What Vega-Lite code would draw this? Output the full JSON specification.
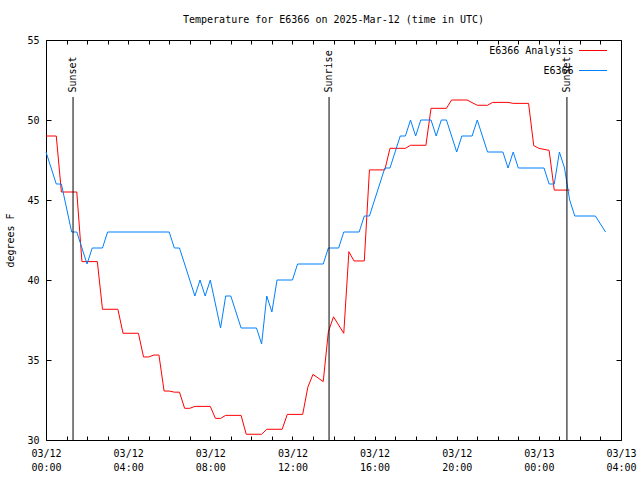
{
  "$schema": "https://vega.github.io/schema/vega-lite/v6.json",
  "width": 575,
  "height": 400,
  "autosize": "none",
  "padding": {"left": 46, "top": 40, "right": 19, "bottom": 40},
  "background": "white",
  "title": {"text": "Temperature for E6366 on 2025-Mar-12 (time in UTC)", "anchor": "middle", "offset": 10, "font": "DejaVu Sans Mono", "fontSize": 10, "fontWeight": "normal", "color": "black"},
  "config": {
    "view": {"stroke": null},
    "axis": {"grid": false, "domain": true, "domainColor": "black", "domainWidth": 1, "tickColor": "black", "tickWidth": 1, "labelColor": "black", "labelFont": "DejaVu Sans Mono", "labelFontSize": 10, "titleFont": "DejaVu Sans Mono", "titleFontSize": 10, "titleFontWeight": "normal", "titleColor": "black"}
  },
  "datasets": {
    "obs": [
      {"series": "E6366 Analysis", "time": "2025-03-12T00:00:00Z", "temp": 49.0},
      {"series": "E6366 Analysis", "time": "2025-03-12T00:30:00Z", "temp": 49.0},
      {"series": "E6366 Analysis", "time": "2025-03-12T00:45:00Z", "temp": 45.5},
      {"series": "E6366 Analysis", "time": "2025-03-12T01:30:00Z", "temp": 45.5},
      {"series": "E6366 Analysis", "time": "2025-03-12T01:45:00Z", "temp": 41.15},
      {"series": "E6366 Analysis", "time": "2025-03-12T02:30:00Z", "temp": 41.15},
      {"series": "E6366 Analysis", "time": "2025-03-12T02:45:00Z", "temp": 38.17},
      {"series": "E6366 Analysis", "time": "2025-03-12T03:30:00Z", "temp": 38.17},
      {"series": "E6366 Analysis", "time": "2025-03-12T03:45:00Z", "temp": 36.67},
      {"series": "E6366 Analysis", "time": "2025-03-12T04:30:00Z", "temp": 36.67},
      {"series": "E6366 Analysis", "time": "2025-03-12T04:45:00Z", "temp": 35.19},
      {"series": "E6366 Analysis", "time": "2025-03-12T05:00:00Z", "temp": 35.19},
      {"series": "E6366 Analysis", "time": "2025-03-12T05:15:00Z", "temp": 35.31},
      {"series": "E6366 Analysis", "time": "2025-03-12T05:30:00Z", "temp": 35.31},
      {"series": "E6366 Analysis", "time": "2025-03-12T05:45:00Z", "temp": 33.06},
      {"series": "E6366 Analysis", "time": "2025-03-12T06:00:00Z", "temp": 33.06},
      {"series": "E6366 Analysis", "time": "2025-03-12T06:15:00Z", "temp": 32.99},
      {"series": "E6366 Analysis", "time": "2025-03-12T06:30:00Z", "temp": 32.99},
      {"series": "E6366 Analysis", "time": "2025-03-12T06:45:00Z", "temp": 31.98},
      {"series": "E6366 Analysis", "time": "2025-03-12T07:00:00Z", "temp": 31.98},
      {"series": "E6366 Analysis", "time": "2025-03-12T07:15:00Z", "temp": 32.1},
      {"series": "E6366 Analysis", "time": "2025-03-12T08:00:00Z", "temp": 32.1},
      {"series": "E6366 Analysis", "time": "2025-03-12T08:15:00Z", "temp": 31.35},
      {"series": "E6366 Analysis", "time": "2025-03-12T08:30:00Z", "temp": 31.35},
      {"series": "E6366 Analysis", "time": "2025-03-12T08:45:00Z", "temp": 31.54},
      {"series": "E6366 Analysis", "time": "2025-03-12T09:30:00Z", "temp": 31.54},
      {"series": "E6366 Analysis", "time": "2025-03-12T09:45:00Z", "temp": 30.36},
      {"series": "E6366 Analysis", "time": "2025-03-12T10:30:00Z", "temp": 30.36},
      {"series": "E6366 Analysis", "time": "2025-03-12T10:45:00Z", "temp": 30.67},
      {"series": "E6366 Analysis", "time": "2025-03-12T11:30:00Z", "temp": 30.67},
      {"series": "E6366 Analysis", "time": "2025-03-12T11:45:00Z", "temp": 31.6},
      {"series": "E6366 Analysis", "time": "2025-03-12T12:30:00Z", "temp": 31.6},
      {"series": "E6366 Analysis", "time": "2025-03-12T12:45:00Z", "temp": 33.3},
      {"series": "E6366 Analysis", "time": "2025-03-12T13:00:00Z", "temp": 34.1},
      {"series": "E6366 Analysis", "time": "2025-03-12T13:30:00Z", "temp": 33.65},
      {"series": "E6366 Analysis", "time": "2025-03-12T13:45:00Z", "temp": 36.77},
      {"series": "E6366 Analysis", "time": "2025-03-12T14:00:00Z", "temp": 37.7},
      {"series": "E6366 Analysis", "time": "2025-03-12T14:30:00Z", "temp": 36.67},
      {"series": "E6366 Analysis", "time": "2025-03-12T14:45:00Z", "temp": 41.77},
      {"series": "E6366 Analysis", "time": "2025-03-12T15:00:00Z", "temp": 41.19},
      {"series": "E6366 Analysis", "time": "2025-03-12T15:30:00Z", "temp": 41.19},
      {"series": "E6366 Analysis", "time": "2025-03-12T15:45:00Z", "temp": 46.88},
      {"series": "E6366 Analysis", "time": "2025-03-12T16:30:00Z", "temp": 46.88},
      {"series": "E6366 Analysis", "time": "2025-03-12T16:45:00Z", "temp": 48.23},
      {"series": "E6366 Analysis", "time": "2025-03-12T17:30:00Z", "temp": 48.23},
      {"series": "E6366 Analysis", "time": "2025-03-12T17:45:00Z", "temp": 48.42},
      {"series": "E6366 Analysis", "time": "2025-03-12T18:30:00Z", "temp": 48.42},
      {"series": "E6366 Analysis", "time": "2025-03-12T18:45:00Z", "temp": 50.73},
      {"series": "E6366 Analysis", "time": "2025-03-12T19:30:00Z", "temp": 50.73},
      {"series": "E6366 Analysis", "time": "2025-03-12T19:45:00Z", "temp": 51.25},
      {"series": "E6366 Analysis", "time": "2025-03-12T20:30:00Z", "temp": 51.25},
      {"series": "E6366 Analysis", "time": "2025-03-12T21:00:00Z", "temp": 50.92},
      {"series": "E6366 Analysis", "time": "2025-03-12T21:30:00Z", "temp": 50.92},
      {"series": "E6366 Analysis", "time": "2025-03-12T21:45:00Z", "temp": 51.1},
      {"series": "E6366 Analysis", "time": "2025-03-12T22:30:00Z", "temp": 51.1},
      {"series": "E6366 Analysis", "time": "2025-03-12T22:45:00Z", "temp": 51.04},
      {"series": "E6366 Analysis", "time": "2025-03-12T23:30:00Z", "temp": 51.04},
      {"series": "E6366 Analysis", "time": "2025-03-12T23:45:00Z", "temp": 48.4},
      {"series": "E6366 Analysis", "time": "2025-03-13T00:00:00Z", "temp": 48.23},
      {"series": "E6366 Analysis", "time": "2025-03-13T00:30:00Z", "temp": 48.1},
      {"series": "E6366 Analysis", "time": "2025-03-13T00:45:00Z", "temp": 45.62},
      {"series": "E6366 Analysis", "time": "2025-03-13T01:30:00Z", "temp": 45.62},
      {"series": "E6366", "time": "2025-03-12T00:00:00Z", "temp": 48},
      {"series": "E6366", "time": "2025-03-12T00:30:00Z", "temp": 46},
      {"series": "E6366", "time": "2025-03-12T00:45:00Z", "temp": 46},
      {"series": "E6366", "time": "2025-03-12T01:15:00Z", "temp": 43},
      {"series": "E6366", "time": "2025-03-12T01:30:00Z", "temp": 43},
      {"series": "E6366", "time": "2025-03-12T02:00:00Z", "temp": 41},
      {"series": "E6366", "time": "2025-03-12T02:15:00Z", "temp": 42},
      {"series": "E6366", "time": "2025-03-12T02:45:00Z", "temp": 42},
      {"series": "E6366", "time": "2025-03-12T03:00:00Z", "temp": 43},
      {"series": "E6366", "time": "2025-03-12T06:00:00Z", "temp": 43},
      {"series": "E6366", "time": "2025-03-12T06:15:00Z", "temp": 42},
      {"series": "E6366", "time": "2025-03-12T06:30:00Z", "temp": 42},
      {"series": "E6366", "time": "2025-03-12T07:15:00Z", "temp": 39},
      {"series": "E6366", "time": "2025-03-12T07:30:00Z", "temp": 40},
      {"series": "E6366", "time": "2025-03-12T07:45:00Z", "temp": 39},
      {"series": "E6366", "time": "2025-03-12T08:00:00Z", "temp": 40},
      {"series": "E6366", "time": "2025-03-12T08:30:00Z", "temp": 37},
      {"series": "E6366", "time": "2025-03-12T08:45:00Z", "temp": 39},
      {"series": "E6366", "time": "2025-03-12T09:00:00Z", "temp": 39},
      {"series": "E6366", "time": "2025-03-12T09:30:00Z", "temp": 37},
      {"series": "E6366", "time": "2025-03-12T10:15:00Z", "temp": 37},
      {"series": "E6366", "time": "2025-03-12T10:30:00Z", "temp": 36},
      {"series": "E6366", "time": "2025-03-12T10:45:00Z", "temp": 39},
      {"series": "E6366", "time": "2025-03-12T11:00:00Z", "temp": 38},
      {"series": "E6366", "time": "2025-03-12T11:15:00Z", "temp": 40},
      {"series": "E6366", "time": "2025-03-12T12:00:00Z", "temp": 40},
      {"series": "E6366", "time": "2025-03-12T12:15:00Z", "temp": 41},
      {"series": "E6366", "time": "2025-03-12T13:30:00Z", "temp": 41},
      {"series": "E6366", "time": "2025-03-12T13:45:00Z", "temp": 42},
      {"series": "E6366", "time": "2025-03-12T14:15:00Z", "temp": 42},
      {"series": "E6366", "time": "2025-03-12T14:30:00Z", "temp": 43},
      {"series": "E6366", "time": "2025-03-12T15:15:00Z", "temp": 43},
      {"series": "E6366", "time": "2025-03-12T15:30:00Z", "temp": 44},
      {"series": "E6366", "time": "2025-03-12T15:45:00Z", "temp": 44},
      {"series": "E6366", "time": "2025-03-12T16:30:00Z", "temp": 47},
      {"series": "E6366", "time": "2025-03-12T16:45:00Z", "temp": 47},
      {"series": "E6366", "time": "2025-03-12T17:15:00Z", "temp": 49},
      {"series": "E6366", "time": "2025-03-12T17:30:00Z", "temp": 49},
      {"series": "E6366", "time": "2025-03-12T17:45:00Z", "temp": 50},
      {"series": "E6366", "time": "2025-03-12T18:00:00Z", "temp": 49},
      {"series": "E6366", "time": "2025-03-12T18:15:00Z", "temp": 50},
      {"series": "E6366", "time": "2025-03-12T18:45:00Z", "temp": 50},
      {"series": "E6366", "time": "2025-03-12T19:00:00Z", "temp": 49},
      {"series": "E6366", "time": "2025-03-12T19:15:00Z", "temp": 50},
      {"series": "E6366", "time": "2025-03-12T19:30:00Z", "temp": 50},
      {"series": "E6366", "time": "2025-03-12T20:00:00Z", "temp": 48},
      {"series": "E6366", "time": "2025-03-12T20:15:00Z", "temp": 49},
      {"series": "E6366", "time": "2025-03-12T20:45:00Z", "temp": 49},
      {"series": "E6366", "time": "2025-03-12T21:00:00Z", "temp": 50},
      {"series": "E6366", "time": "2025-03-12T21:30:00Z", "temp": 48},
      {"series": "E6366", "time": "2025-03-12T22:15:00Z", "temp": 48},
      {"series": "E6366", "time": "2025-03-12T22:30:00Z", "temp": 47},
      {"series": "E6366", "time": "2025-03-12T22:45:00Z", "temp": 48},
      {"series": "E6366", "time": "2025-03-12T23:00:00Z", "temp": 47},
      {"series": "E6366", "time": "2025-03-13T00:15:00Z", "temp": 47},
      {"series": "E6366", "time": "2025-03-13T00:30:00Z", "temp": 46},
      {"series": "E6366", "time": "2025-03-13T00:45:00Z", "temp": 46},
      {"series": "E6366", "time": "2025-03-13T01:00:00Z", "temp": 48},
      {"series": "E6366", "time": "2025-03-13T01:15:00Z", "temp": 47},
      {"series": "E6366", "time": "2025-03-13T01:30:00Z", "temp": 45},
      {"series": "E6366", "time": "2025-03-13T01:45:00Z", "temp": 44},
      {"series": "E6366", "time": "2025-03-13T02:45:00Z", "temp": 44},
      {"series": "E6366", "time": "2025-03-13T03:15:00Z", "temp": 43}
    ],
    "sun": [
      {"time": "2025-03-12T01:19:00Z", "label": "Sunset"},
      {"time": "2025-03-12T13:47:00Z", "label": "Sunrise"},
      {"time": "2025-03-13T01:22:00Z", "label": "Sunset"}
    ]
  },
  "layer": [
    {
      "data": {"name": "obs"},
      "mark": {"type": "line", "strokeWidth": 1},
      "encoding": {
        "x": {
          "field": "time", "type": "temporal",
          "scale": {"type": "utc", "domain": ["2025-03-12T00:00:00Z", "2025-03-13T04:00:00Z"]},
          "axis": {
            "orient": "bottom", "title": null,
            "values": [
              {"year": 2025, "month": 3, "date": 12, "hours": 0, "utc": true},
              {"year": 2025, "month": 3, "date": 12, "hours": 1, "utc": true},
              {"year": 2025, "month": 3, "date": 12, "hours": 2, "utc": true},
              {"year": 2025, "month": 3, "date": 12, "hours": 3, "utc": true},
              {"year": 2025, "month": 3, "date": 12, "hours": 4, "utc": true},
              {"year": 2025, "month": 3, "date": 12, "hours": 5, "utc": true},
              {"year": 2025, "month": 3, "date": 12, "hours": 6, "utc": true},
              {"year": 2025, "month": 3, "date": 12, "hours": 7, "utc": true},
              {"year": 2025, "month": 3, "date": 12, "hours": 8, "utc": true},
              {"year": 2025, "month": 3, "date": 12, "hours": 9, "utc": true},
              {"year": 2025, "month": 3, "date": 12, "hours": 10, "utc": true},
              {"year": 2025, "month": 3, "date": 12, "hours": 11, "utc": true},
              {"year": 2025, "month": 3, "date": 12, "hours": 12, "utc": true},
              {"year": 2025, "month": 3, "date": 12, "hours": 13, "utc": true},
              {"year": 2025, "month": 3, "date": 12, "hours": 14, "utc": true},
              {"year": 2025, "month": 3, "date": 12, "hours": 15, "utc": true},
              {"year": 2025, "month": 3, "date": 12, "hours": 16, "utc": true},
              {"year": 2025, "month": 3, "date": 12, "hours": 17, "utc": true},
              {"year": 2025, "month": 3, "date": 12, "hours": 18, "utc": true},
              {"year": 2025, "month": 3, "date": 12, "hours": 19, "utc": true},
              {"year": 2025, "month": 3, "date": 12, "hours": 20, "utc": true},
              {"year": 2025, "month": 3, "date": 12, "hours": 21, "utc": true},
              {"year": 2025, "month": 3, "date": 12, "hours": 22, "utc": true},
              {"year": 2025, "month": 3, "date": 12, "hours": 23, "utc": true},
              {"year": 2025, "month": 3, "date": 13, "hours": 0, "utc": true},
              {"year": 2025, "month": 3, "date": 13, "hours": 1, "utc": true},
              {"year": 2025, "month": 3, "date": 13, "hours": 2, "utc": true},
              {"year": 2025, "month": 3, "date": 13, "hours": 3, "utc": true},
              {"year": 2025, "month": 3, "date": 13, "hours": 4, "utc": true}
            ],
            "tickSize": -4,
            "labelExpr": "utchours(datum.value) % 4 == 0 ? [utcFormat(datum.value, '%m/%d'), utcFormat(datum.value, '%H:%M')] : ''",
            "labelPadding": 12, "labelLineHeight": 14, "labelBaseline": "top", "labelAlign": "center",
            "labelFlush": false, "labelOverlap": false, "labelBound": false
          }
        },
        "y": {
          "field": "temp", "type": "quantitative",
          "scale": {"domain": [30, 55], "nice": false, "zero": false},
          "axis": {
            "orient": "left", "title": "degrees F", "values": [30, 35, 40, 45, 50, 55],
            "tickSize": -5, "labelPadding": 12,
            "titleAngle": 270, "titleX": -36, "titleY": 200, "titleAlign": "center", "titleBaseline": "middle"
          }
        },
        "color": {
          "field": "series", "type": "nominal",
          "scale": {"domain": ["E6366 Analysis", "E6366"], "range": ["#ff0000", "#0080ff"]},
          "legend": {
            "title": null, "orient": "none", "legendX": 532.5, "legendY": -4, "padding": 0,
            "symbolType": "stroke", "symbolSize": 784, "symbolStrokeWidth": 1,
            "labelAlign": "right", "labelOffset": -34, "labelFont": "DejaVu Sans Mono", "labelFontSize": 10, "labelColor": "black",
            "rowPadding": -15
          }
        }
      }
    },
    {
      "data": {"name": "sun"},
      "mark": {"type": "rule", "color": "black", "strokeWidth": 1},
      "encoding": {
        "x": {
          "field": "time", "type": "temporal",
          "axis": {
            "orient": "top", "title": null, "labels": false,
            "values": [
              {"year": 2025, "month": 3, "date": 12, "hours": 0, "utc": true},
              {"year": 2025, "month": 3, "date": 12, "hours": 1, "utc": true},
              {"year": 2025, "month": 3, "date": 12, "hours": 2, "utc": true},
              {"year": 2025, "month": 3, "date": 12, "hours": 3, "utc": true},
              {"year": 2025, "month": 3, "date": 12, "hours": 4, "utc": true},
              {"year": 2025, "month": 3, "date": 12, "hours": 5, "utc": true},
              {"year": 2025, "month": 3, "date": 12, "hours": 6, "utc": true},
              {"year": 2025, "month": 3, "date": 12, "hours": 7, "utc": true},
              {"year": 2025, "month": 3, "date": 12, "hours": 8, "utc": true},
              {"year": 2025, "month": 3, "date": 12, "hours": 9, "utc": true},
              {"year": 2025, "month": 3, "date": 12, "hours": 10, "utc": true},
              {"year": 2025, "month": 3, "date": 12, "hours": 11, "utc": true},
              {"year": 2025, "month": 3, "date": 12, "hours": 12, "utc": true},
              {"year": 2025, "month": 3, "date": 12, "hours": 13, "utc": true},
              {"year": 2025, "month": 3, "date": 12, "hours": 14, "utc": true},
              {"year": 2025, "month": 3, "date": 12, "hours": 15, "utc": true},
              {"year": 2025, "month": 3, "date": 12, "hours": 16, "utc": true},
              {"year": 2025, "month": 3, "date": 12, "hours": 17, "utc": true},
              {"year": 2025, "month": 3, "date": 12, "hours": 18, "utc": true},
              {"year": 2025, "month": 3, "date": 12, "hours": 19, "utc": true},
              {"year": 2025, "month": 3, "date": 12, "hours": 20, "utc": true},
              {"year": 2025, "month": 3, "date": 12, "hours": 21, "utc": true},
              {"year": 2025, "month": 3, "date": 12, "hours": 22, "utc": true},
              {"year": 2025, "month": 3, "date": 12, "hours": 23, "utc": true},
              {"year": 2025, "month": 3, "date": 13, "hours": 0, "utc": true},
              {"year": 2025, "month": 3, "date": 13, "hours": 1, "utc": true},
              {"year": 2025, "month": 3, "date": 13, "hours": 2, "utc": true},
              {"year": 2025, "month": 3, "date": 13, "hours": 3, "utc": true},
              {"year": 2025, "month": 3, "date": 13, "hours": 4, "utc": true}
            ],
            "tickSize": -4
          }
        },
        "y": {
          "datum": 30, "type": "quantitative",
          "axis": {"orient": "right", "title": null, "labels": false, "values": [30, 35, 40, 45, 50, 55], "tickSize": -5}
        },
        "y2": {"datum": 51.44}
      }
    },
    {
      "data": {"name": "sun"},
      "mark": {"type": "text", "angle": 270, "align": "left", "baseline": "middle", "font": "DejaVu Sans Mono", "fontSize": 10, "color": "black"},
      "encoding": {
        "x": {"field": "time", "type": "temporal", "axis": null},
        "y": {"datum": 51.72, "type": "quantitative", "axis": null},
        "text": {"field": "label"}
      }
    }
  ],
  "resolve": {"axis": {"x": "independent", "y": "independent"}}
}
